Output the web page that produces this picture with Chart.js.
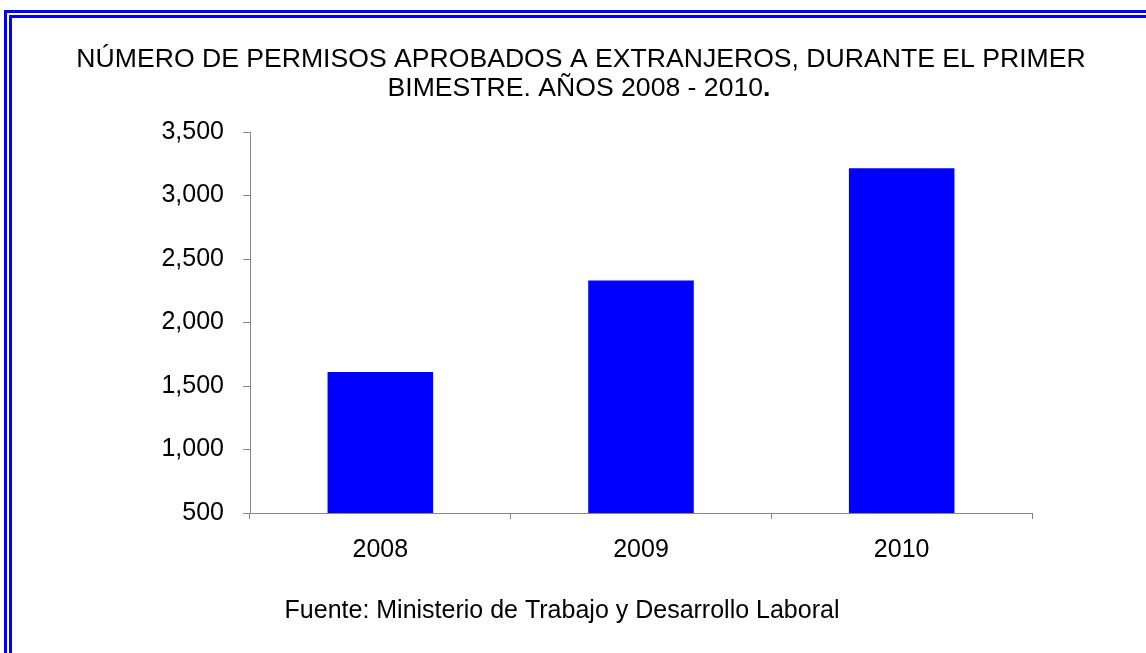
<!DOCTYPE html>
<html>
<head>
<meta charset="utf-8">
<script src="https://cdn.jsdelivr.net/npm/chart.js@4.4.0/dist/chart.umd.min.js"></script>
<style>
    html, body { margin: 0; padding: 0; background: #fff; overflow: hidden; }
    #frame {
        position: absolute; left: 4px; top: 10px;
        width: 1300px; height: 800px;
        border-left: 8px double #0000ff;
        border-top: 8px double #0000ff;
    }
    #wrap { position: absolute; left: 0; top: 0; width: 1146px; height: 653px; }
</style>
</head>
<body>
<div id="frame"></div>
<div id="wrap"><canvas id="myChart"></canvas></div>
<script>
const years = ['2008', '2009', '2010'];
const permisos = [1610, 2330, 3215];
const titleLines = ['NÚMERO DE PERMISOS APROBADOS A EXTRANJEROS, DURANTE EL PRIMER', 'BIMESTRE. AÑOS 2008 - 2010'];
const sourceText = 'Fuente: Ministerio de Trabajo y Desarrollo Laboral';

const FONT = 'Arial, "Liberation Sans", sans-serif';

// title and source are drawn by hand so they can sit off-centre like the original
const captions = {
    id: 'captions',
    afterDraw(chart) {
        const c = chart.ctx;
        c.save();
        c.fillStyle = '#000';
        c.textBaseline = 'middle';
        c.textAlign = 'center';
        c.font = '26.6px ' + FONT;
        c.fillText(titleLines[0], 581, 60);
        const w = c.measureText(titleLines[1]).width;
        c.font = 'bold 26.6px ' + FONT;
        const dot = c.measureText('.').width;
        const x0 = 579 - (w + dot) / 2;
        c.textAlign = 'left';
        c.font = '26.6px ' + FONT;
        c.fillText(titleLines[1], x0, 89);
        c.font = 'bold 26.6px ' + FONT;
        c.fillText('.', x0 + w, 89);
        c.font = '25px ' + FONT;
        c.textAlign = 'center';
        c.fillText(sourceText, 562, 611);
        c.restore();
    }
};

const data = {
    labels: years,
    datasets: [{
        data: permisos,
        backgroundColor: '#0000ff',
        borderWidth: 0,
        barPercentage: 0.405,
        categoryPercentage: 1
    }]
};

const config = {
    type: 'bar',
    data: data,
    plugins: [captions],
    options: {
        responsive: true,
        maintainAspectRatio: false,
        animation: false,
        layout: { padding: { top: 132, left: 0, right: 114, bottom: 0 } },
        plugins: {
            legend: { display: false },
            tooltip: { enabled: false }
        },
        scales: {
            x: {
                grid: { display: true, drawOnChartArea: false, offset: true, tickLength: 6, color: '#868686' },
                border: { color: '#868686' },
                ticks: { color: '#000', font: { family: FONT, size: 25 }, padding: 16 },
                afterFit(s) { s.height = 140; }
            },
            y: {
                min: 500,
                max: 3500,
                grid: { drawOnChartArea: false, tickLength: 7, color: '#868686' },
                border: { color: '#868686' },
                ticks: {
                    stepSize: 500,
                    color: '#000',
                    font: { family: FONT, size: 25 },
                    padding: 19,
                    callback: v => v.toLocaleString('en-US')
                },
                afterFit(s) { s.width = 250; }
            }
        }
    }
};

const ctx = document.getElementById('myChart');
chart = new Chart(ctx, config);
</script>
</body>
</html>
